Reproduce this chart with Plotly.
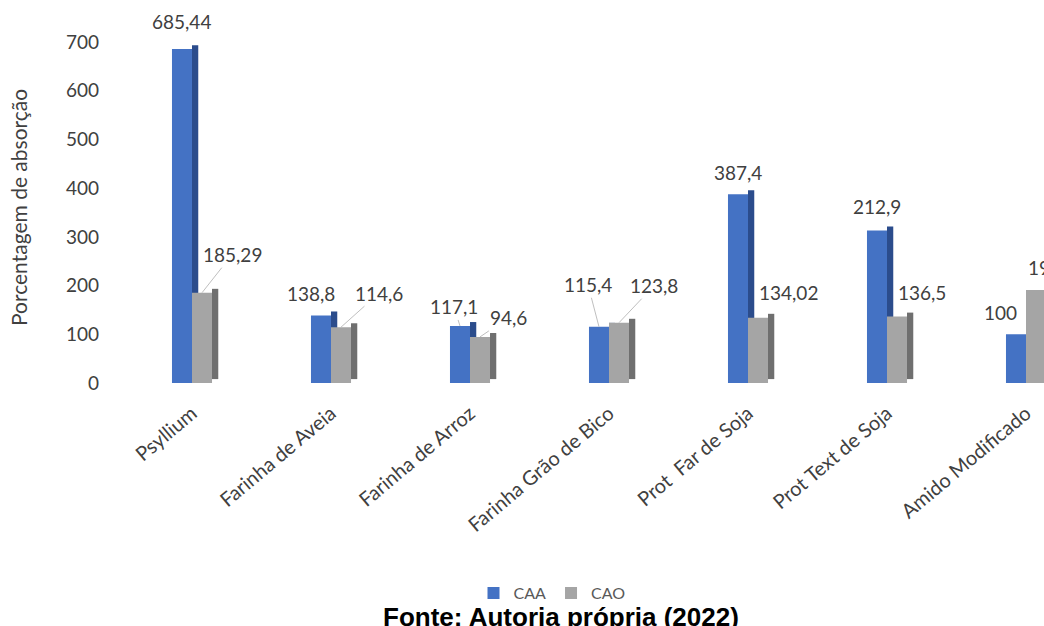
import plotly.graph_objects as go

categories = ["Psyllium", "Farinha de Aveia", "Farinha de Arroz", "Farinha Grão de Bico",
              "Prot  Far de Soja", "Prot Text de Soja", "Amido Modificado"]
caa_values = [685.44, 138.8, 117.1, 115.4, 387.4, 313, 100]
cao_values = [185.29, 114.6, 94.6, 123.8, 134.02, 136.5, 191]
caa_labels = ["685,44", "138,8", "117,1", "115,4", "387,4", "212,9", "100"]
cao_labels = ["185,29", "114,6", "94,6", "123,8", "134,02", "136,5", "191"]
y_ticks = [0, 100, 200, 300, 400, 500, 600, 700]

# label placement (pixel offsets of the label from the bar top) and leader-line flags
caa_label_offsets = [(0, -28), (-10, -22), (-6, -19), (-11, -42), (0, -22), (0, -24), (-15, -22)]
cao_label_offsets = [(30, -38), (38, -34), (28, -19), (35, -37), (30, -25), (25, -24), (8, -22)]
caa_leader = [False, False, True, True, False, False, False]
cao_leader = [True, True, True, True, False, False, False]

xs = list(range(len(categories)))
BW = 0.144      # front face width (category units)
SW = 0.045      # side face width
LIFT = 8        # side face lift (value units)

BLUE, BLUE_SIDE = "#4472C4", "#2B4C8C"
GRAY, GRAY_SIDE = "#A5A5A5", "#6F6F6F"
FONT = "Lato, Open Sans, sans-serif"

fig = go.Figure()
fig.add_trace(go.Bar(x=xs, y=caa_values, base=LIFT, width=SW, offset=0,
                     marker=dict(color=BLUE_SIDE, line=dict(width=0)),
                     showlegend=False, hoverinfo="skip"))
fig.add_trace(go.Bar(x=xs, y=caa_values, width=BW, offset=-BW, name="CAA",
                     marker=dict(color=BLUE, line=dict(width=0))))
fig.add_trace(go.Bar(x=xs, y=cao_values, base=LIFT, width=SW, offset=BW,
                     marker=dict(color=GRAY_SIDE, line=dict(width=0)),
                     showlegend=False, hoverinfo="skip"))
fig.add_trace(go.Bar(x=xs, y=cao_values, width=BW, offset=0, name="CAO",
                     marker=dict(color=GRAY, line=dict(width=0))))

label_font = dict(family=FONT, size=19, color="#404040")
annotations = []
for i, x in enumerate(xs):
    for vals, labs, offs, lead, dx in ((caa_values, caa_labels, caa_label_offsets, caa_leader, -BW / 2),
                                       (cao_values, cao_labels, cao_label_offsets, cao_leader, BW / 2)):
        ax, ay = offs[i]
        annotations.append(dict(
            x=x + dx, y=vals[i], xref="x", yref="y", text=labs[i],
            showarrow=True, ax=ax, ay=ay, arrowhead=0, arrowwidth=1, standoff=0,
            arrowcolor="#BFBFBF" if lead[i] else "rgba(0,0,0,0)",
            font=label_font))

L, R, T, B = 104, 0, 3, 243
plot_w, plot_h = 1044 - L - R, 626 - T - B

def px_x(p):
    return (p - L) / plot_w

def px_y(p):
    return (626 - B - p) / plot_h

annotations.append(dict(x=px_x(18), y=px_y(208), xref="paper", yref="paper",
                        text="Porcentagem de absorção", textangle=-90, showarrow=False,
                        font=dict(family=FONT, size=21, color="#404040"),
                        xanchor="center", yanchor="middle"))
annotations.append(dict(x=px_x(561), y=px_y(600), xref="paper", yref="paper",
                        text="<b>Fonte: Autoria própria (2022)</b>", showarrow=False,
                        font=dict(family="Liberation Sans, Arial, sans-serif", size=26, color="#000000"),
                        xanchor="center", yanchor="top"))

per_unit = 139.0
x0 = -(192 - L) / per_unit
x1 = x0 + plot_w / per_unit

fig.update_layout(
    width=1044, height=626,
    margin=dict(l=L, r=R, t=T, b=B, autoexpand=False),
    paper_bgcolor="white", plot_bgcolor="white",
    barmode="overlay",
    showlegend=True,
    legend=dict(orientation="h", x=px_x(552), y=px_y(593), xanchor="center", yanchor="middle",
                font=dict(family=FONT, size=16, color="#595959"),
                itemwidth=30, traceorder="normal", bgcolor="rgba(0,0,0,0)"),
    annotations=annotations,
    xaxis=dict(range=[x0, x1], tickmode="array", tickvals=xs, ticktext=categories,
               tickangle=-40, showgrid=False, zeroline=False, showline=False, ticks="",
               ticklabelstandoff=14,
               tickfont=dict(family=FONT, size=20, color="#404040")),
    yaxis=dict(range=[0, 780], tickmode="array", tickvals=y_ticks,
               showgrid=False, zeroline=False, showline=False, ticks="",
               ticklabelstandoff=4,
               tickfont=dict(family=FONT, size=19, color="#404040")),
)

fig.write_html("out.html")
